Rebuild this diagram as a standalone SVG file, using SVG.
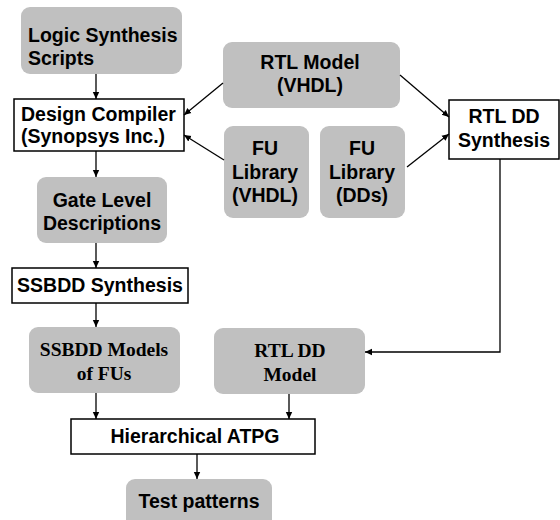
<svg xmlns="http://www.w3.org/2000/svg" width="560" height="520" viewBox="0 0 560 520">
<defs>
<marker id="ah" markerWidth="8" markerHeight="8" refX="7" refY="4" orient="auto" markerUnits="userSpaceOnUse">
<path d="M0,0.8 L7,4 L0,7.2 Z" fill="#000"/>
</marker>
<style>
.g{fill:#c0c0c0;stroke:none}
.w{fill:#fff;stroke:#000;stroke-width:1.5}
.t{font-family:"Liberation Sans",Arial,sans-serif;font-weight:bold;font-size:19.5px;fill:#000;text-anchor:middle}
.s{font-family:"Liberation Serif","Times New Roman",serif;font-weight:bold;font-size:19.5px;fill:#000;text-anchor:middle}
.c{fill:none;stroke:#000;stroke-width:1.3;marker-end:url(#ah)}
</style>
</defs>
<rect width="560" height="520" fill="#fff"/>
<g id="logic-synthesis-scripts">
<rect class="g" x="21" y="7" width="161" height="67" rx="9"/>
<text class="t" x="28" y="42" style="text-anchor:start">Logic Synthesis</text>
<text class="t" x="28" y="65" style="text-anchor:start">Scripts</text>
</g>
<g id="design-compiler">
<rect class="w" x="14" y="99" width="170" height="52"/>
<text class="t" x="21" y="121" style="text-anchor:start">Design Compiler</text>
<text class="t" x="21" y="143" style="text-anchor:start">(Synopsys Inc.)</text>
</g>
<g id="rtl-model">
<rect class="g" x="223" y="42" width="177" height="66" rx="9"/>
<text class="t" x="310" y="69">RTL Model</text>
<text class="t" x="310" y="92">(VHDL)</text>
</g>
<g id="fu-library-vhdl">
<rect class="g" x="224" y="126" width="85" height="92" rx="9"/>
<text class="t" x="265" y="155">FU</text>
<text class="t" x="265" y="179">Library</text>
<text class="t" x="265" y="202">(VHDL)</text>
</g>
<g id="fu-library-dds">
<rect class="g" x="320" y="126" width="85" height="92" rx="9"/>
<text class="t" x="362" y="155">FU</text>
<text class="t" x="362" y="179">Library</text>
<text class="t" x="362" y="202">(DDs)</text>
</g>
<g id="rtl-dd-synthesis">
<rect class="w" x="449" y="100" width="110" height="59"/>
<text class="t" x="504" y="123">RTL DD</text>
<text class="t" x="504" y="147">Synthesis</text>
</g>
<g id="gate-level-descriptions">
<rect class="g" x="37" y="177" width="130" height="66" rx="9"/>
<text class="t" x="102" y="207">Gate Level</text>
<text class="t" x="102" y="230">Descriptions</text>
</g>
<g id="ssbdd-synthesis">
<rect class="w" x="12" y="268" width="176" height="35"/>
<text class="t" x="100" y="292">SSBDD Synthesis</text>
</g>
<g id="ssbdd-models">
<rect class="g" x="29" y="327" width="151" height="66" rx="9"/>
<text class="s" x="104" y="356">SSBDD Models</text>
<text class="s" x="104" y="380">of FUs</text>
</g>
<g id="rtl-dd-model">
<rect class="g" x="214" y="328" width="151" height="66" rx="9"/>
<text class="s" x="290" y="357">RTL DD</text>
<text class="s" x="290" y="381">Model</text>
</g>
<g id="hierarchical-atpg">
<rect class="w" x="71" y="419" width="244" height="35"/>
<text class="t" x="195" y="443">Hierarchical ATPG</text>
</g>
<g id="test-patterns">
<rect class="g" x="126" y="479" width="146" height="50" rx="9"/>
<text class="t" x="199" y="508">Test patterns</text>
</g>
<g id="connectors">
<line class="c" x1="96" y1="74" x2="96" y2="99"/>
<line class="c" x1="96" y1="151" x2="96" y2="177"/>
<line class="c" x1="223" y1="83" x2="184" y2="115"/>
<line class="c" x1="224" y1="160" x2="184" y2="135"/>
<line class="c" x1="400" y1="75" x2="449" y2="117"/>
<line class="c" x1="407" y1="167" x2="449" y2="134"/>
<line class="c" x1="96" y1="243" x2="96" y2="268"/>
<line class="c" x1="96" y1="303" x2="96" y2="327"/>
<polyline class="c" points="500,159 500,352 365,352"/>
<line class="c" x1="96" y1="393" x2="96" y2="419"/>
<line class="c" x1="289" y1="394" x2="289" y2="419"/>
<line class="c" x1="197" y1="454" x2="197" y2="479"/>
</g>
</svg>
